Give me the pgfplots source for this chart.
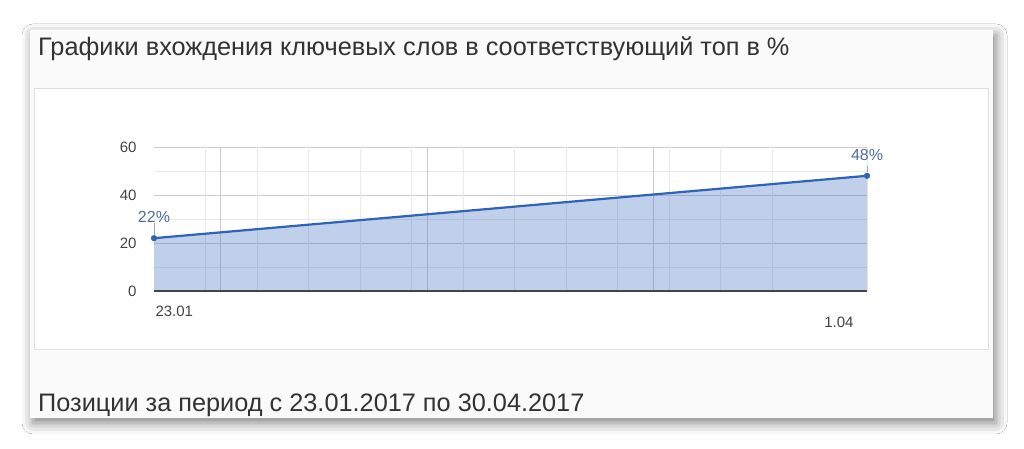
\documentclass[border=0pt]{standalone}
\usepackage{fontspec}
\setmainfont{Liberation Sans}
\usepackage{pgfplots}
\pgfplotsset{compat=1.18}
\usetikzlibrary{shadows.blur}

\definecolor{panel}{HTML}{FAFAFA}
\definecolor{frame}{HTML}{E0E0E0}
\definecolor{series}{HTML}{3162BA}
\definecolor{labelblue}{HTML}{4E6EA8}
\definecolor{gridmaj}{HTML}{CDCDCD}
\definecolor{gridmin}{HTML}{E9E9E9}
\definecolor{ticktext}{HTML}{444444}
\definecolor{titletext}{HTML}{333333}

\begin{document}
\begin{tikzpicture}[x=1pt,y=1pt]
  \useasboundingbox (0,0) rectangle (1024,449);
  % card with shadow
  \fill[white] (0,0) rectangle (1024,449);
  \fill[panel, blur shadow={shadow xshift=3pt, shadow yshift=-5pt, shadow blur radius=11pt, shadow opacity=50}]
    (30,31) rectangle (993,419);
  \draw[frame, fill=white] (34,100) rectangle (988,361);

  \node[anchor=west, text=titletext, font=\fontsize{25.3}{29}\selectfont, inner sep=0pt]
    at (38,400) {Графики вхождения ключевых слов в соответствующий топ в \%};
  \node[anchor=west, text=titletext, font=\fontsize{25.3}{29}\selectfont, inner sep=0pt]
    at (38,44) {Позиции за период с 23.01.2017 по 30.04.2017};

  \begin{axis}[
    at={(154pt,158pt)}, anchor=south west,
    scale only axis, width=713pt, height=144pt,
    xmin=0, xmax=1, ymin=0, ymax=60,
    axis line style={draw=none},
    ytick={0,20,40,60}, minor ytick={10,30,50},
    ymajorgrids, yminorgrids,
    major grid style={gridmaj, line width=0.8pt},
    minor grid style={gridmin, line width=0.8pt},
    major tick length=0pt, minor tick length=0pt,
    tick label style={text=ticktext, font=\fontsize{15}{17}\selectfont},
    /pgf/number format/assume math mode=true,
    yticklabel style={anchor=east, xshift=-14pt},
    xtick={0}, xticklabels={23.01},
    xticklabel style={anchor=north west, xshift=-2pt, yshift=-11pt},
    extra x ticks={1}, extra x tick labels={1.04},
    extra x tick style={xticklabel style={anchor=north east, xshift=-8pt, yshift=-11pt}},
    clip=false,
  ]
    % vertical grid lines
    \pgfplotsinvokeforeach{0.0722,0.1445,0.2167,0.2889,0.3612,0.4334,0.5056,0.5778,0.6501,0.7223,0.7945,0.8668}{
      \draw[gridmin, line width=0.8pt] (axis cs:#1,0) -- (axis cs:#1,60);
    }
    \pgfplotsinvokeforeach{0.0935,0.383,0.701}{
      \draw[gridmaj, line width=0.9pt] (axis cs:#1,0) -- (axis cs:#1,60);
    }
    \draw[gridmin, line width=0.8pt] (axis cs:1,0) -- (axis cs:1,60);

    \addplot[draw=none, fill=series, fill opacity=0.3] coordinates {(0,0) (0,22) (1,48) (1,0)} -- cycle;
    \addplot[series, line width=2.2pt, mark=*, mark size=2.8pt, mark options={fill=series, line width=0.5pt}]
      coordinates {(0,22) (1,48)};

    \draw[ticktext, line width=1.2pt] (axis cs:0,0) -- (axis cs:1,0);

    \draw[gray!70, line width=0.6pt] (axis cs:0,23.5) -- ++(0,12pt);
    \node[anchor=south, text=labelblue, font=\fontsize{16}{18}\selectfont, inner sep=0pt]
      at ([yshift=15pt]axis cs:0,22) {22\%};
    \draw[gray!70, line width=0.6pt] (axis cs:1,49.5) -- ++(0,6pt);
    \node[anchor=south, text=labelblue, font=\fontsize{16}{18}\selectfont, inner sep=0pt]
      at ([yshift=15pt]axis cs:1,48) {48\%};
  \end{axis}
\end{tikzpicture}
\end{document}
